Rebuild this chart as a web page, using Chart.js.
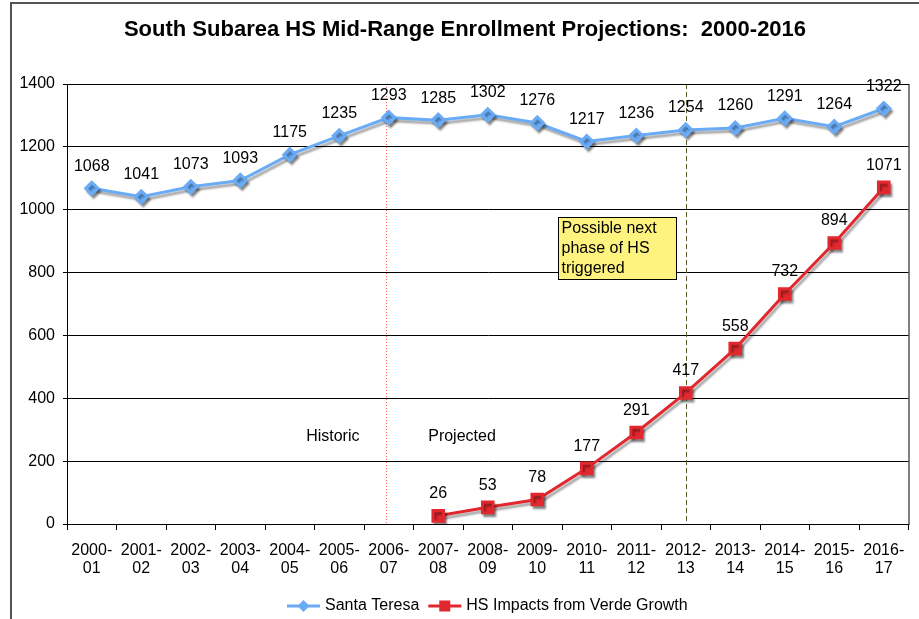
<!DOCTYPE html>
<html>
<head>
<meta charset="utf-8">
<script src="https://cdn.jsdelivr.net/npm/chart.js"></script>
<style>
  body { margin: 0; background: #fff; }
  #wrap { width: 919px; height: 619px; position: relative; }
</style>
</head>
<body>
<div id="wrap"><canvas id="enrollChart" width="919" height="619"></canvas></div>
<script>
let years = [["2000-","01"],["2001-","02"],["2002-","03"],["2003-","04"],["2004-","05"],["2005-","06"],["2006-","07"],["2007-","08"],["2008-","09"],["2009-","10"],["2010-","11"],["2011-","12"],["2012-","13"],["2013-","14"],["2014-","15"],["2015-","16"],["2016-","17"]]
let santaTeresa = [1068,1041,1073,1093,1175,1235,1293,1285,1302,1276,1217,1236,1254,1260,1291,1264,1322]
let hsImpacts = [null,null,null,null,null,null,null,26,53,78,177,291,417,558,732,894,1071]
let yTicks = [0,200,400,600,800,1000,1200,1400]

let titleText = "South Subarea HS Mid-Range Enrollment Projections:  2000-2016"
let noteLines = ["Possible next","phase of HS","triggered"]
let font = "Liberation Sans, Arial, sans-serif"

// shadow under each series line
let shadowPlugin = {
    id: "shadow",
    beforeDatasetDraw(chart){
        let ctx = chart.ctx
        ctx.save()
        ctx.shadowColor = "rgba(0,0,0,0.35)"
        ctx.shadowOffsetX = 2
        ctx.shadowOffsetY = 3
        ctx.shadowBlur = 2
    },
    afterDatasetDraw(chart){
        chart.ctx.restore()
    }
}

let extrasPlugin = {
    id: "extras",
    beforeDraw(chart){
        let ctx = chart.ctx
        ctx.save()
        ctx.fillStyle = "#fff"
        ctx.fillRect(0,0,chart.width,chart.height)
        // outer frame
        ctx.strokeStyle = "#555"
        ctx.lineWidth = 2
        ctx.beginPath()
        ctx.moveTo(11, chart.height)
        ctx.lineTo(11, 3)
        ctx.lineTo(chart.width, 3)
        ctx.stroke()
        // title
        ctx.fillStyle = "#000"
        ctx.font = "bold 22px " + font
        ctx.textAlign = "center"
        ctx.textBaseline = "middle"
        ctx.fillText(titleText, 465, 30)
        ctx.restore()
    },
    beforeDatasetsDraw(chart){
        let ctx = chart.ctx
        let x = chart.scales.x
        let y = chart.scales.y
        let a = chart.chartArea
        ctx.save()
        // historic / projected divider
        ctx.strokeStyle = "#ff6060"
        ctx.lineWidth = 1
        ctx.setLineDash([1,2])
        let xd = Math.round(x.getPixelForValue(6)) - 2.5
        ctx.beginPath(); ctx.moveTo(xd, a.top); ctx.lineTo(xd, a.bottom); ctx.stroke()
        // trigger year
        ctx.strokeStyle = "#5a5a2a"
        ctx.setLineDash([5,3])
        let xt = Math.round(x.getPixelForValue(12)) + 0.5
        ctx.beginPath(); ctx.moveTo(xt, a.top); ctx.lineTo(xt, a.bottom); ctx.stroke()
        ctx.setLineDash([])
        // plot frame
        ctx.strokeStyle = "#000"
        ctx.strokeRect(a.left + 0.5, a.top + 0.5, a.right - a.left, a.bottom - a.top)
        // period labels
        ctx.fillStyle = "#000"
        ctx.font = "16px " + font
        ctx.textAlign = "center"
        ctx.textBaseline = "middle"
        ctx.fillText("Historic", x.getPixelForValue(4.87), y.getPixelForValue(277))
        ctx.fillText("Projected", x.getPixelForValue(7.48), y.getPixelForValue(277))
        ctx.restore()
    },
    afterDraw(chart){
        let ctx = chart.ctx
        let x = chart.scales.x
        let y = chart.scales.y
        ctx.save()
        // value labels
        ctx.fillStyle = "#000"
        ctx.font = "16px " + font
        ctx.textAlign = "center"
        ctx.textBaseline = "middle"
        chart.data.datasets.forEach((ds, di) => {
            let meta = chart.getDatasetMeta(di)
            meta.data.forEach((pt, i) => {
                if (ds.data[i] === null) return
                ctx.fillText(String(ds.data[i]), pt.x, pt.y - 22)
            })
        })
        // note box
        let bx1 = Math.round(x.getPixelForValue(9.42)) + 0.5
        let bx2 = Math.round(x.getPixelForValue(11.8)) + 0.5
        let by1 = Math.round(y.getPixelForValue(977)) + 0.5
        let by2 = Math.round(y.getPixelForValue(781)) + 0.5
        ctx.fillStyle = "#fff380"
        ctx.fillRect(bx1, by1, bx2 - bx1, by2 - by1)
        ctx.strokeStyle = "#000"
        ctx.lineWidth = 1
        ctx.strokeRect(bx1, by1, bx2 - bx1, by2 - by1)
        ctx.fillStyle = "#000"
        ctx.textAlign = "left"
        noteLines.forEach((t, i) => ctx.fillText(t, bx1 + 3, by1 + 11 + i * 20))
        // legend
        let lx = 287
        let ly = 606
        chart.data.datasets.forEach((ds) => {
            ctx.strokeStyle = ds.borderColor
            ctx.lineWidth = 3
            ctx.beginPath(); ctx.moveTo(lx, ly); ctx.lineTo(lx + 33, ly); ctx.stroke()
            ctx.fillStyle = ds.pointBackgroundColor
            let cx = lx + 16.5
            if (ds.pointStyle === "rectRot") {
                ctx.beginPath()
                ctx.moveTo(cx, ly - 6); ctx.lineTo(cx + 6, ly); ctx.lineTo(cx, ly + 6); ctx.lineTo(cx - 6, ly)
                ctx.closePath(); ctx.fill()
            } else {
                ctx.fillRect(cx - 5.5, ly - 5.5, 11, 11)
            }
            ctx.fillStyle = "#000"
            ctx.font = "16px " + font
            ctx.textAlign = "left"
            ctx.fillText(ds.label, lx + 38, ly)
            lx += 38 + ctx.measureText(ds.label).width + 9
        })
        ctx.restore()
    }
}

new Chart(document.getElementById("enrollChart"), {
    type: "line",
    data: {
        labels: years,
        datasets: [
            {
                label: "Santa Teresa",
                data: santaTeresa,
                borderColor: "#6aabf5",
                backgroundColor: "#6aabf5",
                pointBackgroundColor: "#6aabf5",
                pointBorderColor: "#6aabf5",
                borderWidth: 3,
                pointStyle: "rectRot",
                pointRadius: 6,
                tension: 0
            },
            {
                label: "HS Impacts from Verde Growth",
                data: hsImpacts,
                borderColor: "#e0282e",
                backgroundColor: "#e0282e",
                pointBackgroundColor: "#e0282e",
                pointBorderColor: "#e0282e",
                borderWidth: 3,
                pointStyle: "rect",
                pointRadius: 7.5,
                tension: 0
            }
        ]
    },
    options: {
        responsive: false,
        animation: false,
        layout: { padding: { top: 84, right: 9, left: 0, bottom: 0 } },
        plugins: {
            legend: { display: false },
            title: { display: false },
            tooltip: { enabled: false }
        },
        scales: {
            x: {
                offset: true,
                grid: { offset: true, drawOnChartArea: false, tickLength: 6, color: "#000" },
                border: { color: "#000" },
                ticks: {
                    color: "#000",
                    padding: 11,
                    maxRotation: 0,
                    autoSkip: false,
                    font: { family: font, size: 16, lineHeight: 1.15 }
                },
                afterFit(scale){ scale.height = 95 }
            },
            y: {
                min: 0,
                max: 1400,
                afterBuildTicks(scale){ scale.ticks = yTicks.map(v => ({ value: v })) },
                grid: { color: "#000", tickLength: 4 },
                border: { color: "#000" },
                ticks: {
                    color: "#000",
                    padding: 8,
                    font: { family: font, size: 16 },
                    callback: (v) => String(v)
                },
                afterFit(scale){ scale.width = 67 }
            }
        }
    },
    plugins: [shadowPlugin, extrasPlugin]
})
</script>
</body>
</html>
